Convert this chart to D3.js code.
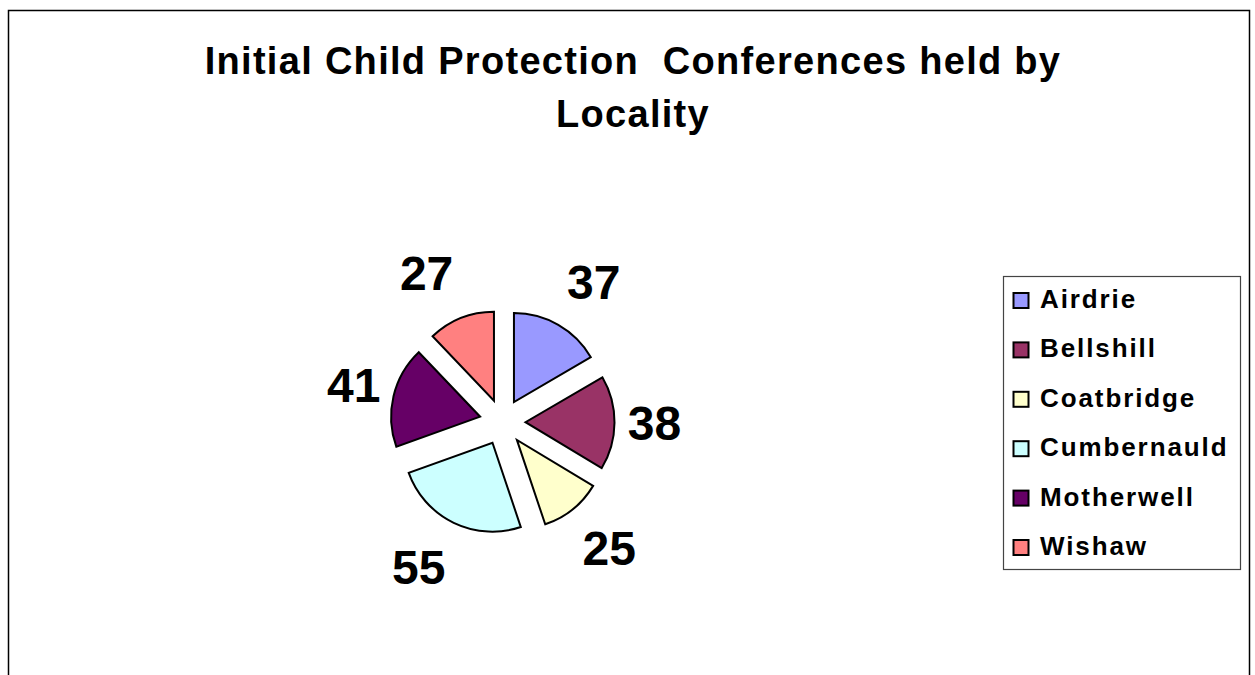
<!DOCTYPE html>
<html>
<head>
<meta charset="utf-8">
<script src="https://cdn.jsdelivr.net/npm/d3@7"></script>
<style>
  html, body { margin: 0; padding: 0; background: #fff; }
  svg { display: block; }
  text { font-family: "Liberation Sans", Arial, sans-serif; font-weight: bold; fill: #000; }
</style>
</head>
<body>
<svg id="chart" width="1255" height="675"></svg>
<script>
const titleLines = ["Initial Child Protection  Conferences held by", "Locality"];
const localities = ["Airdrie", "Bellshill", "Coatbridge", "Cumbernauld", "Motherwell", "Wishaw"];
const conferences = [37, 38, 25, 55, 41, 27];
const sliceColors = ["#9999FF", "#993366", "#FFFFCC", "#CCFFFF", "#660066", "#FF8080"];

const svg = d3.select("#chart");

// outer chart frame
svg.append("rect")
  .attr("x", 8.5).attr("y", 10.5)
  .attr("width", 1241).attr("height", 720)
  .attr("fill", "#fff")
  .attr("stroke", "#000").attr("stroke-width", 1.5);

// title
const title = svg.append("text")
  .attr("text-anchor", "middle")
  .attr("font-size", 38)
  .attr("letter-spacing", 1.3)
  .attr("xml:space", "preserve");
title.selectAll("tspan").data(titleLines).join("tspan")
  .attr("x", 633)
  .attr("y", (d, i) => 74 + i * 53)
  .text(d => d);

// pie
const cx = 502.5, cy = 422, radius = 89, explode = 23;
const pie = d3.pie().sort(null).value(d => d.v);
const arcs = pie(localities.map((n, i) => ({ n, v: conferences[i], c: sliceColors[i] })));
const arc = d3.arc().innerRadius(0).outerRadius(radius);

const g = svg.append("g").attr("transform", `translate(${cx},${cy})`);

function dirOf(a) {
  const m = (a.startAngle + a.endAngle) / 2;
  return [Math.sin(m), -Math.cos(m)];
}

g.selectAll("path.slice").data(arcs).join("path")
  .attr("class", "slice")
  .attr("d", arc)
  .attr("transform", d => {
    const [dx, dy] = dirOf(d);
    return `translate(${dx * explode},${dy * explode})`;
  })
  .attr("fill", d => d.data.c)
  .attr("stroke", "#000")
  .attr("stroke-width", 2)
  .attr("stroke-linejoin", "miter");

// data labels (outside end)
const labelR = radius + explode + 9;
g.selectAll("text.lbl").data(arcs).join("text")
  .attr("class", "lbl")
  .attr("font-size", 48)
  .attr("text-anchor", "middle")
  .attr("x", d => {
    const [dx] = dirOf(d);
    return dx * labelR + 31 * Math.max(-1, Math.min(1, dx * 5));
  })
  .attr("y", d => {
    const [, dy] = dirOf(d);
    return dy * labelR + dy * 40 + 17;
  })
  .text(d => d.data.v);

// legend
const lg = svg.append("g");
lg.append("rect")
  .attr("x", 1003.5).attr("y", 276.5)
  .attr("width", 237).attr("height", 293)
  .attr("fill", "#fff")
  .attr("stroke", "#444").attr("stroke-width", 1.2);

const items = lg.selectAll("g.item").data(localities).join("g")
  .attr("class", "item")
  .attr("transform", (d, i) => `translate(0,${308 + i * 49.4})`);
items.append("rect")
  .attr("x", 1013.5).attr("y", -15)
  .attr("width", 15).attr("height", 15)
  .attr("fill", (d, i) => sliceColors[i])
  .attr("stroke", "#000").attr("stroke-width", 2);
items.append("text")
  .attr("x", 1040).attr("y", 0)
  .attr("font-size", 26)
  .attr("letter-spacing", 1.9)
  .text(d => d);
</script>
</body>
</html>
